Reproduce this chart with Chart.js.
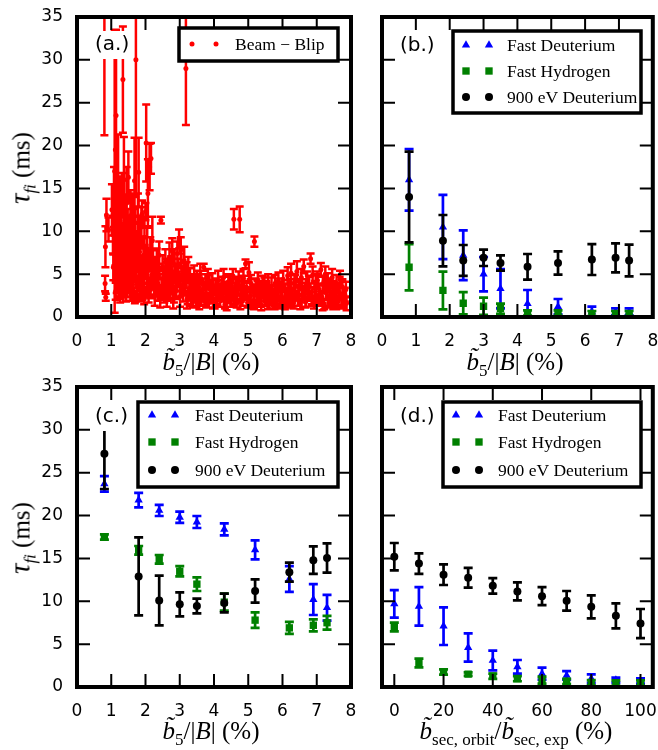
<!DOCTYPE html>
<html>
<head>
<meta charset="utf-8">
<script src="https://cdn.jsdelivr.net/npm/chart.js@4.4.0/dist/chart.umd.min.js"></script>
<style>
  body { margin: 0; background: #fff; }
  #wrap { position: relative; width: 658px; height: 750px; overflow: hidden; }
  canvas { position: absolute; }
  .t { position: absolute; font-family: 'Liberation Serif', serif; font-size: 25px; white-space: nowrap;
       transform: translate(-50%, -50%); color: #000; line-height: 1; }
  .t.y { transform: translate(-50%, -50%) rotate(-90deg); }
  .t sub { font-size: 17px; vertical-align: -6px; }
  .t .tau { font-size: 29px; }
</style>
</head>
<body>
<div id="wrap">
  <canvas id="pa" width="360" height="360" style="left:0;top:0"></canvas>
  <canvas id="pb" width="298" height="360" style="left:360px;top:0"></canvas>
  <canvas id="pc" width="360" height="360" style="left:0;top:370px"></canvas>
  <canvas id="pd" width="298" height="360" style="left:360px;top:370px"></canvas>

  <div class="t y" style="left:22px;top:168px"><i class="tau">τ</i><sub><i>fi</i></sub> (ms)</div>
  <div class="t y" style="left:22px;top:538px"><i class="tau">τ</i><sub><i>fi</i></sub> (ms)</div>
  <div class="t" style="left:211px;top:364px"><i>b̃</i><sub>5</sub>/|<i>B</i>| (%)</div>
  <div class="t" style="left:515px;top:364px"><i>b̃</i><sub>5</sub>/|<i>B</i>| (%)</div>
  <div class="t" style="left:211px;top:733px"><i>b̃</i><sub>5</sub>/|<i>B</i>| (%)</div>
  <div class="t" style="left:516px;top:733px"><i>b̃</i><sub>sec, orbit</sub>/<i>b̃</i><sub>sec, exp</sub> (%)</div>
</div>
<script>
// ---- data ----
var seriesNames = ['Fast Deuterium', 'Fast Hydrogen', '900 eV Deuterium'];
var xTicksB5 = [0, 1, 2, 3, 4, 5, 6, 7, 8];
var xTicksSec = [0, 20, 40, 60, 80, 100];
var yTicks = [0, 5, 10, 15, 20, 25, 30, 35];

// (a) beam-blip scan
var beamX = [
  0.80, 0.82, 0.84, 0.83, 0.86, 0.92, 1.02, 1.05, 1.06, 1.08, 1.10, 1.12, 1.14, 1.15, 1.16, 1.18, 1.20, 1.21,
  1.22, 1.24, 1.25, 1.27, 1.28, 1.30, 1.31, 1.32, 1.34, 1.35, 1.36, 1.37, 1.38, 1.40, 1.41, 1.42, 1.44, 1.45,
  1.46, 1.48, 1.49, 1.50, 1.52, 1.53, 1.55, 1.56, 1.58, 1.60, 1.62, 1.63, 1.65, 1.66, 1.68, 1.70, 1.72, 1.73,
  1.75, 1.77, 1.78, 1.80, 1.82, 1.84, 1.85, 1.87, 1.88, 1.90, 1.92, 1.94, 1.95, 1.97, 1.98, 2.00, 2.02, 2.04,
  2.05, 2.07, 2.08, 2.10, 2.12, 2.14, 2.16, 2.18, 2.20, 2.22,
  1.13, 1.26, 1.43, 1.57, 1.69, 1.83, 1.96, 2.09, 1.19, 1.64, 1.91, 2.15,
  2.25, 2.28, 2.30, 2.33, 2.35, 2.38, 2.40, 2.45, 2.47, 2.50, 2.52, 2.55, 2.58, 2.60, 2.63, 2.65, 2.68, 2.70,
  2.73, 2.75, 2.78, 2.80, 2.83, 2.85, 2.88, 2.90, 2.93, 2.95, 2.98, 3.00, 3.03, 3.05, 3.08, 3.10, 3.13, 3.15,
  3.18, 3.20, 3.23, 3.25, 3.28, 3.30,
  3.33, 3.36, 3.40, 3.42, 3.45, 3.48, 3.50, 3.53, 3.56, 3.60, 3.63, 3.66, 3.70, 3.72, 3.75, 3.78, 3.82, 3.85,
  3.88, 3.92, 3.95, 3.98, 4.02, 4.05, 4.08, 4.12, 4.15, 4.18, 4.22, 4.25, 4.28, 4.32, 4.35, 4.38, 4.42, 4.45, 4.48,
  4.52, 4.55, 4.58, 4.60, 4.63, 4.66, 4.68, 4.72, 4.75, 4.78, 4.80, 4.83, 4.86, 4.88, 4.92, 4.95, 4.98, 5.02,
  5.05, 5.08, 5.12, 5.15, 5.18, 5.22, 5.25, 5.28, 5.32, 5.35, 5.38, 5.42, 5.45, 5.48, 5.52, 5.55, 5.58,
  5.62, 5.65, 5.68, 5.72, 5.75, 5.78, 5.82, 5.85, 5.88, 5.92, 5.95, 5.98, 6.02, 6.05, 6.08, 6.12, 6.15, 6.18,
  6.22, 6.25, 6.28, 6.32, 6.35, 6.38, 6.42, 6.45, 6.48, 6.52, 6.55, 6.58, 6.62, 6.65, 6.68, 6.72, 6.75, 6.78,
  6.82, 6.85, 6.88, 6.92, 6.95, 6.98, 7.02, 7.05, 7.08, 7.12, 7.15, 7.18, 7.22, 7.25, 7.28, 7.32, 7.35, 7.38,
  7.42, 7.45, 7.48, 7.52, 7.55, 7.58, 7.62, 7.65, 7.68, 7.72, 7.75, 7.78, 7.82, 7.85,
  2.27, 2.36, 2.43, 2.53, 2.62, 2.71, 2.81, 2.91, 3.01, 3.11, 3.21, 3.31, 3.38, 3.47, 3.57, 3.67, 3.77, 3.87,
  3.97, 4.07, 4.17, 4.27, 4.37, 4.47, 4.57, 4.67, 4.77, 4.87, 4.97, 5.07, 5.17, 5.27, 5.37, 5.47, 5.57, 5.67,
  5.77, 5.87, 5.97, 6.07, 6.17, 6.27, 6.37, 6.47, 6.57, 6.67, 6.77, 6.87, 6.97, 7.07, 7.17, 7.27, 7.37, 7.47,
  7.57, 7.67, 7.77, 7.87
];
var beamY = [
  32.0, 3.9, 2.3, 8.2, 11.9, 10.2, 12.5, 9.6, 5.8, 14.0, 17.0, 19.5, 23.5, 7.4, 4.6, 11.2, 15.3, 3.6,
  8.9, 6.3, 12.8, 2.9, 10.1, 5.2, 14.2, 7.9, 27.7, 4.1, 9.4, 16.0, 6.6, 11.3, 3.3, 8.1, 5.5, 13.3,
  7.0, 10.4, 4.4, 16.3, 6.1, 9.0, 3.8, 11.8, 7.4, 5.0, 12.4, 8.5, 4.2, 6.8, 15.9, 9.8, 30.0, 5.6,
  3.5, 7.6, 11.0, 16.9, 4.8, 8.8, 6.0, 3.2, 10.5, 12.0, 5.3, 7.2, 3.9, 9.3, 6.4, 12.3, 20.3, 4.6,
  8.0, 14.4, 5.8, 3.4, 17.5, 7.3, 18.5, 4.9, 8.9, 6.2,
  3.0, 2.4, 2.6, 2.8, 2.3, 2.6, 2.2, 2.5, 5.0, 3.1, 3.0, 3.2,
  3.6, 5.4, 4.1, 6.6, 2.8, 4.8, 7.2, 11.3, 3.3, 5.9, 4.2, 2.5, 6.4, 3.9, 5.1, 2.9, 4.5, 6.9,
  3.4, 5.6, 7.7, 4.0, 2.6, 6.1, 4.7, 3.1, 7.4, 5.2, 9.1, 3.7, 7.8, 5.8, 4.3, 2.7, 6.6, 3.6,
  29.0, 4.9, 2.3, 5.5, 3.2, 4.4,
  2.0, 3.8, 2.6, 4.7, 3.0, 1.8, 4.2, 2.4, 3.5, 5.0, 2.1, 3.1, 5.8, 1.9, 3.9, 2.7, 4.4, 1.7,
  3.3, 2.4, 4.0, 2.9, 1.6, 3.5, 2.2, 4.3, 3.0, 1.9, 3.7, 2.6, 4.6, 1.5, 3.2, 2.3, 4.1, 2.8, 1.8,
  3.4, 4.8, 11.4, 2.2, 3.7, 1.6, 2.9, 4.2, 11.4, 2.5, 3.6, 1.9, 4.5, 2.8, 6.2, 3.3, 1.7, 5.2,
  2.4, 3.9, 1.5, 2.9, 8.8, 3.5, 1.8, 4.3, 2.2, 3.1, 1.3, 3.8, 2.6, 1.9, 3.3, 2.1, 4.0,
  1.6, 2.9, 3.6, 1.4, 2.5, 3.9, 1.8, 2.8, 4.2, 1.5, 3.2, 2.2, 4.4, 1.7, 3.0, 2.4, 4.8, 1.9,
  3.5, 5.1, 2.6, 1.6, 4.0, 2.9, 5.3, 2.0, 3.4, 1.5, 4.6, 2.5, 5.9, 3.1, 1.8, 4.2, 2.7, 3.7,
  6.8, 2.2, 4.9, 1.6, 3.3, 2.5, 4.3, 1.9, 3.0, 5.5, 2.3, 3.8, 1.5, 5.0, 2.8, 4.1, 1.7, 3.4,
  2.2, 4.6, 1.4, 3.1, 2.5, 3.9, 1.8, 2.9, 4.4, 2.1, 3.5, 1.5, 2.6, 3.2,
  2.6, 3.9, 2.2, 3.5, 2.4, 3.8, 2.1, 4.5, 2.4, 3.9, 2.0, 3.4, 2.2, 3.5, 1.9, 3.2, 2.2, 3.6,
  2.0, 3.1, 2.4, 3.4, 1.8, 3.6, 2.3, 3.3, 1.8, 3.5, 2.4, 3.2, 1.9, 3.0, 2.3, 3.4, 1.8, 2.6,
  1.9, 3.3, 2.5, 1.9, 3.1, 2.2, 3.6, 2.4, 3.2, 2.1, 3.5, 2.4, 3.7, 2.6, 1.8, 3.3, 2.4, 3.0,
  1.9, 3.5, 2.3, 1.6
];
var beamErr = [
  10.8, 0.9, 0.4, 2.4, 1.9, 1.4, 3.0, 2.2, 1.5, 3.5, 16.5, 13.5, 10.0, 2.8, 1.8, 4.0, 6.0, 1.2,
  3.2, 2.4, 3.6, 0.8, 2.6, 2.0, 2.6, 2.9, 6.2, 1.5, 3.6, 5.0, 2.2, 3.0, 1.0, 2.7, 1.9, 4.2,
  2.4, 2.2, 1.6, 3.0, 2.0, 2.6, 1.4, 3.0, 2.5, 1.6, 2.0, 3.2, 1.5, 2.4, 5.0, 2.8, 16.0, 1.8,
  1.2, 2.4, 3.4, 4.0, 1.6, 3.0, 2.0, 1.1, 2.3, 1.6, 1.8, 2.2, 1.3, 2.4, 2.0, 1.0, 4.5, 1.5,
  2.6, 4.0, 1.9, 1.1, 2.7, 2.0, 1.8, 1.6, 2.8, 1.6,
  1.0, 0.7, 0.8, 0.9, 0.7, 0.8, 0.7, 0.8, 1.5, 1.0, 1.0, 1.0,
  1.2, 1.6, 1.5, 1.4, 0.9, 1.4, 1.6, 0.4, 1.1, 1.3, 1.6, 0.8, 1.5, 1.2, 1.7, 1.0, 1.4, 1.8,
  1.2, 1.5, 1.5, 1.3, 0.9, 1.8, 1.2, 1.0, 1.4, 1.6, 1.1, 1.3, 1.5, 1.6, 1.4, 0.9, 1.6, 1.1,
  6.6, 1.5, 0.8, 1.5, 1.0, 1.3,
  0.7, 1.2, 0.8, 1.3, 1.0, 0.6, 1.2, 0.7, 1.1, 1.2, 0.7, 1.0, 0.4, 0.6, 1.1, 0.9, 1.2, 0.6,
  1.0, 0.8, 1.1, 0.9, 0.6, 1.0, 0.7, 1.1, 0.9, 0.7, 1.0, 0.8, 1.0, 0.5, 0.9, 0.7, 0.9, 0.8, 0.6,
  1.0, 0.8, 1.2, 0.7, 1.0, 0.5, 0.9, 1.1, 1.5, 0.7, 1.0, 0.6, 1.1, 0.8, 0.5, 0.9, 0.6, 1.2,
  0.8, 1.0, 0.5, 0.9, 0.6, 1.0, 0.6, 0.9, 0.7, 0.9, 0.5, 1.0, 0.8, 0.6, 0.9, 0.7, 1.0,
  0.6, 0.8, 1.0, 0.5, 0.8, 1.0, 0.6, 0.9, 1.0, 0.5, 0.9, 0.7, 1.0, 0.6, 0.9, 0.8, 1.0, 0.6,
  0.9, 1.1, 0.8, 0.6, 1.0, 0.9, 1.2, 0.7, 0.9, 0.6, 1.0, 0.8, 0.8, 0.9, 0.6, 1.1, 0.8, 1.0,
  0.6, 0.7, 1.0, 0.6, 0.9, 0.8, 1.0, 0.6, 0.9, 0.8, 0.7, 1.0, 0.6, 0.9, 0.8, 1.0, 0.6, 0.9,
  0.7, 1.0, 0.5, 0.9, 0.8, 1.0, 0.6, 0.8, 1.0, 0.7, 0.9, 0.5, 0.8, 0.9,
  1.3, 1.5, 1.1, 1.5, 1.2, 1.6, 1.1, 1.5, 1.2, 1.4, 1.0, 1.3, 1.1, 1.4, 1.0, 1.3, 1.1, 1.3,
  1.0, 1.2, 1.2, 1.3, 1.0, 1.3, 1.1, 1.3, 0.9, 1.3, 1.1, 1.2, 1.0, 1.2, 1.1, 1.2, 0.9, 1.1,
  1.0, 1.2, 1.1, 1.0, 1.2, 1.1, 1.3, 1.1, 1.2, 1.0, 1.3, 1.1, 1.3, 1.1, 1.0, 1.2, 1.1, 1.2,
  1.0, 1.2, 1.1, 0.8
];

// (b) and (c) share the same b5 scan positions
var b5X = [0.8, 1.8, 2.4, 3.0, 3.5, 4.3, 5.2, 6.2, 6.9, 7.3];
var bFastD = [16.0, 10.5, 7.2, 5.0, 3.3, 1.55, 1.2, 0.6, 0.6, 0.6];
var bFastDErr = [3.6, 3.75, 2.9, 2.0, 2.3, 1.6, 0.9, 0.6, 0.4, 0.4];
var bFastH = [5.8, 3.1, 1.6, 1.25, 0.97, 0.47, 0.47, 0.4, 0.4, 0.4];
var bFastHErr = [2.7, 2.2, 1.3, 1.0, 0.6, 0.3, 0.3, 0.3, 0.3, 0.3];
var b900 = [14.0, 8.9, 6.6, 6.9, 6.3, 5.85, 6.3, 6.7, 6.9, 6.6];
var b900Err = [5.3, 3.0, 1.8, 0.95, 0.9, 1.5, 1.35, 1.8, 1.7, 1.85];

var cFastD = [23.7, 21.8, 20.6, 19.8, 19.25, 18.4, 16.0, 12.6, 10.2, 9.25];
var cFastDErr = [0.9, 0.85, 0.65, 0.65, 0.7, 0.7, 1.1, 1.5, 1.8, 1.5];
var cFastH = [17.5, 15.95, 14.9, 13.5, 12.0, 9.9, 7.8, 6.9, 7.2, 7.5];
var cFastHErr = [0.3, 0.5, 0.5, 0.6, 0.8, 1.0, 0.9, 0.7, 0.7, 0.8];
var c900 = [27.2, 12.9, 10.1, 9.65, 9.45, 9.8, 11.2, 13.4, 14.8, 15.05];
var c900Err = [4.1, 4.55, 2.9, 1.4, 0.85, 1.1, 1.35, 1.1, 1.6, 1.7];

// (d) secular field scan
var secX = [0, 10, 20, 30, 40, 50, 60, 70, 80, 90, 100];
var dFastD = [9.7, 9.4, 7.1, 4.6, 3.1, 2.35, 1.55, 1.35, 0.97, 0.8, 0.7];
var dFastDErr = [1.6, 2.25, 2.2, 1.65, 1.15, 0.8, 0.7, 0.5, 0.5, 0.3, 0.3];
var dFastH = [7.0, 2.8, 1.75, 1.5, 1.25, 0.97, 0.8, 0.65, 0.5, 0.47, 0.47];
var dFastHErr = [0.5, 0.5, 0.3, 0.2, 0.3, 0.3, 0.4, 0.3, 0.3, 0.3, 0.3];
var d900 = [15.2, 14.4, 13.1, 12.75, 11.8, 11.15, 10.6, 10.05, 9.35, 8.3, 7.4];
var d900Err = [1.6, 1.2, 1.2, 1.15, 0.9, 1.05, 1.05, 1.15, 1.35, 1.45, 1.7];

// ---- helpers ----
function toPts(xs, ys) {
  return xs.map(function(x, i) { return { x: x, y: ys[i] }; });
}

// error bars under each dataset + matplotlib-like frame, inward ticks, legend box, panel label
var framePlugin = {
  id: 'frame',
  beforeDatasetDraw: function(chart, args) {
    var ds = chart.data.datasets[args.index];
    if (!ds.errors) return;
    var ctx = chart.ctx, a = chart.chartArea;
    var xs = chart.scales.x, ys = chart.scales.y;
    ctx.save();
    ctx.beginPath();
    ctx.rect(a.left, a.top, a.right - a.left, a.bottom - a.top);
    ctx.clip();
    ctx.strokeStyle = ds.backgroundColor;
    ctx.lineWidth = ds.errWidth;
    ctx.beginPath();
    ds.data.forEach(function(p, i) {
      var e = ds.errors[i];
      var px = xs.getPixelForValue(p.x);
      var top = ys.getPixelForValue(p.y + e);
      var bot = ys.getPixelForValue(p.y - e);
      ctx.moveTo(px, top); ctx.lineTo(px, bot);
      ctx.moveTo(px - ds.capHalf, top); ctx.lineTo(px + ds.capHalf, top);
      ctx.moveTo(px - ds.capHalf, bot); ctx.lineTo(px + ds.capHalf, bot);
    });
    ctx.stroke();
    ctx.restore();
  },
  afterDraw: function(chart, args, o) {
    var ctx = chart.ctx, a = chart.chartArea;
    var xs = chart.scales.x, ys = chart.scales.y;
    ctx.save();

    // panel label on a white box
    ctx.font = '20px "DejaVu Sans"';
    ctx.textBaseline = 'middle';
    ctx.textAlign = 'left';
    var lw = ctx.measureText(o.label).width;
    ctx.fillStyle = '#fff';
    ctx.fillRect(o.labelPos[0] - 3, o.labelPos[1] - 14, lw + 6, 28);
    ctx.fillStyle = '#000';
    ctx.fillText(o.label, o.labelPos[0], o.labelPos[1]);

    ctx.strokeStyle = '#000';
    ctx.lineWidth = 2;
    ctx.beginPath();
    xs.ticks.forEach(function(t) {
      var px = xs.getPixelForValue(t.value);
      ctx.moveTo(px, a.top); ctx.lineTo(px, a.top + 13);
      ctx.moveTo(px, a.bottom); ctx.lineTo(px, a.bottom - 13);
    });
    ys.ticks.forEach(function(t) {
      var py = ys.getPixelForValue(t.value);
      ctx.moveTo(a.left, py); ctx.lineTo(a.left + 13, py);
      ctx.moveTo(a.right, py); ctx.lineTo(a.right - 13, py);
    });
    ctx.stroke();
    ctx.lineWidth = 4;
    ctx.strokeRect(a.left, a.top, a.right - a.left, a.bottom - a.top);

    // legend
    var L = o.legend;
    ctx.fillStyle = '#fff';
    ctx.fillRect(L.box[0], L.box[1], L.box[2] - L.box[0], L.box[3] - L.box[1]);
    ctx.lineWidth = 3.5;
    ctx.strokeStyle = '#000';
    ctx.strokeRect(L.box[0], L.box[1], L.box[2] - L.box[0], L.box[3] - L.box[1]);
    ctx.font = '17.5px "Liberation Serif"';
    chart.data.datasets.forEach(function(ds, i) {
      var y = L.rows[i];
      ctx.fillStyle = ds.backgroundColor;
      L.marks.forEach(function(mx) {
        Chart.helpers.drawPoint(ctx, { pointStyle: ds.pointStyle, radius: ds.pointRadius, rotation: 0, borderWidth: 0 }, mx, y);
      });
      ctx.fillStyle = '#000';
      ctx.fillText(ds.label, L.textX, y + 1);
    });
    ctx.restore();
  }
};

function makePanel(id, p) {
  return new Chart(document.getElementById(id), {
    type: 'scatter',
    data: { datasets: p.datasets },
    options: {
      responsive: false,
      animation: false,
      devicePixelRatio: 1,
      layout: { padding: { top: 17, right: p.padRight, left: 0, bottom: 0 } },
      plugins: {
        legend: { display: false },
        tooltip: { enabled: false },
        frame: { label: p.label, labelPos: p.labelPos, legend: p.legend }
      },
      scales: {
        x: {
          type: 'linear', min: p.xMin, max: p.xMax,
          grid: { display: false, drawTicks: false },
          border: { display: false },
          ticks: {
            color: '#000', padding: 14, maxRotation: 0, autoSkip: false,
            font: { family: 'DejaVu Sans', size: 17 },
            callback: function(v) { return String(v); }
          },
          afterBuildTicks: function(s) { s.ticks = p.xTicks.map(function(v) { return { value: v }; }); },
          afterFit: function(s) { s.height = 43; s.paddingLeft = 0; s.paddingRight = 0; }
        },
        y: {
          type: 'linear', min: 0, max: 35,
          grid: { display: false, drawTicks: false },
          border: { display: false },
          ticks: {
            display: p.showY, color: '#000', padding: 14,
            font: { family: 'DejaVu Sans', size: 17 },
            callback: function(v) { return String(v); }
          },
          afterBuildTicks: function(s) { s.ticks = yTicks.map(function(v) { return { value: v }; }); },
          afterFit: function(s) { s.width = p.yWidth; s.paddingTop = 0; s.paddingBottom = 0; }
        }
      }
    },
    plugins: [framePlugin]
  });
}

function threeSeries(xs, fd, fdE, fh, fhE, te, teE) {
  return [
    { label: seriesNames[0], data: toPts(xs, fd), errors: fdE, backgroundColor: '#0000ff',
      pointStyle: 'triangle', pointRadius: 4.8, borderWidth: 0, errWidth: 2.7, capHalf: 4.5, order: 3 },
    { label: seriesNames[1], data: toPts(xs, fh), errors: fhE, backgroundColor: '#008000',
      pointStyle: 'rect', pointRadius: 5.2, borderWidth: 0, errWidth: 2.7, capHalf: 4.5, order: 2 },
    { label: seriesNames[2], data: toPts(xs, te), errors: teE, backgroundColor: '#000000',
      pointStyle: 'circle', pointRadius: 4, borderWidth: 0, errWidth: 2.7, capHalf: 4.5, order: 1 }
  ];
}

makePanel('pa', {
  label: '(a.)', labelPos: [95, 45], xMin: 0, xMax: 8, xTicks: xTicksB5, showY: true, yWidth: 77, padRight: 9,
  legend: { box: [179, 28, 338, 61], marks: [192, 216], textX: 235, rows: [44] },
  datasets: [{ label: 'Beam − Blip', data: toPts(beamX, beamY), errors: beamErr, backgroundColor: '#ff0000',
    pointStyle: 'circle', pointRadius: 2.5, borderWidth: 0, errWidth: 2.5, capHalf: 4 }]
});
makePanel('pb', {
  label: '(b.)', labelPos: [40, 46], xMin: 0, xMax: 8, xTicks: xTicksB5, showY: false, yWidth: 22, padRight: 3,
  legend: { box: [93, 31, 281, 113], marks: [106, 129], textX: 147, rows: [45, 71, 97] },
  datasets: threeSeries(b5X, bFastD, bFastDErr, bFastH, bFastHErr, b900, b900Err)
});
makePanel('pc', {
  label: '(c.)', labelPos: [95, 47], xMin: 0, xMax: 8, xTicks: xTicksB5, showY: true, yWidth: 77, padRight: 9,
  legend: { box: [138, 32, 338, 117], marks: [152, 175], textX: 195, rows: [45, 72, 100] },
  datasets: threeSeries(b5X, cFastD, cFastDErr, cFastH, cFastHErr, c900, c900Err)
});
makePanel('pd', {
  label: '(d.)', labelPos: [40, 47], xMin: -5, xMax: 105, xTicks: xTicksSec, showY: false, yWidth: 22, padRight: 3,
  legend: { box: [83, 32, 281, 117], marks: [96, 119], textX: 138, rows: [45, 72, 100] },
  datasets: threeSeries(secX, dFastD, dFastDErr, dFastH, dFastHErr, d900, d900Err)
});
</script>
</body>
</html>
